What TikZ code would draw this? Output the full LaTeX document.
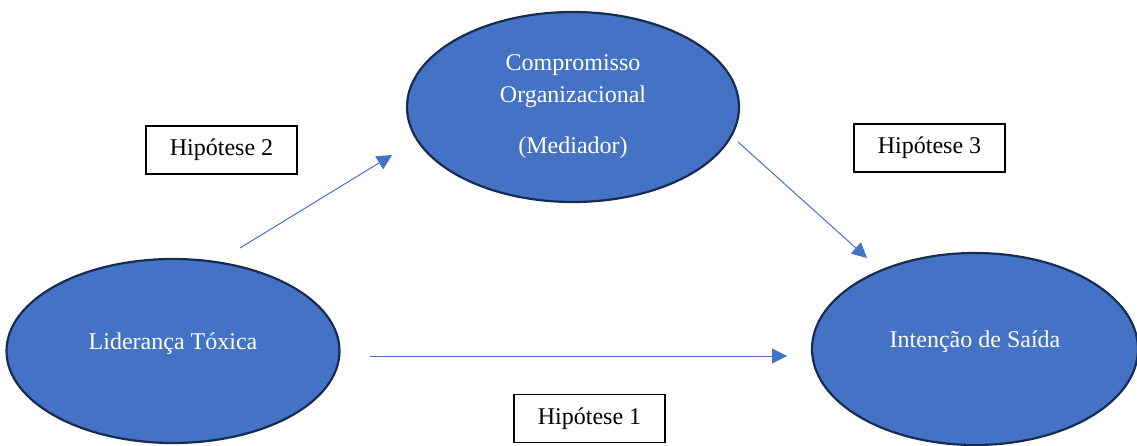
\documentclass[tikz,border=0pt]{standalone}
\usepackage{fontspec}
\setmainfont{Liberation Serif}
\usetikzlibrary{shapes.geometric,arrows.meta}
\definecolor{ovalBlue}{RGB}{68,114,196}
\definecolor{ovalEdge}{RGB}{23,44,81}

\begin{document}
\begin{tikzpicture}[x=1pt,y=-1pt,
    oval/.style={ellipse,draw=ovalEdge,line width=2.2pt,fill=ovalBlue,text=white,
      inner sep=0pt,align=center,font=\fontsize{24}{32}\selectfont},
    hbox/.style={draw=black,line width=1.6pt,minimum width=151pt,minimum height=48pt,
      inner sep=0pt,font=\fontsize{24}{29}\selectfont},
    link/.style={ovalBlue,line width=1pt,-{Triangle[length=15pt,width=15pt]}}]
  \useasboundingbox (0,0) rectangle (1137,446);
  % ellipses
  \node[oval,minimum width=332pt,minimum height=190pt] (comp) at (573,107)
    {Compromisso\\Organizacional\\[19pt](Mediador)};
  \node[oval,minimum width=333pt,minimum height=184pt,text depth=19pt] (lider) at (173,351)
    {Liderança Tóxica};
  \node[oval,minimum width=326pt,minimum height=192pt,text depth=19pt] (saida) at (975,349)
    {Intenção de Saída};
  % hypothesis labels
  \node[hbox] (h2) at (221.5,150) {Hipótese 2};
  \node[hbox] (h3) at (929.5,148) {Hipótese 3};
  \node[hbox] (h1) at (589.5,418.5) {Hipótese 1};
  % arrow ends
  \coordinate (a2s) at (240,248);
  \coordinate (a2e) at (392,155);
  \coordinate (a3s) at (738,142);
  \coordinate (a3e) at (867,258);
  \coordinate (a1s) at (370,356);
  \coordinate (a1e) at (787,356);
  \draw[link] (a2s) -- (a2e);
  \draw[link] (a3s) -- (a3e);
  \draw[link] (a1s) -- (a1e);
\end{tikzpicture}
\end{document}
